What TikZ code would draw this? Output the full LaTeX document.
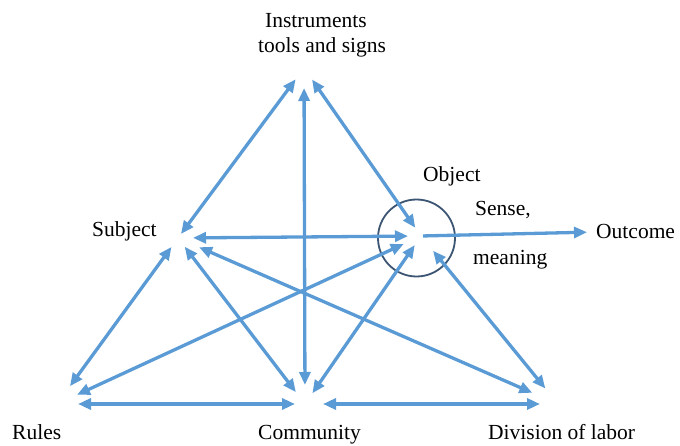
\documentclass[tikz,border=0pt]{standalone}
\usepackage{fontspec}
\setmainfont{Liberation Serif}
\usetikzlibrary{arrows.meta}
\definecolor{arrblue}{RGB}{91,155,213}
\definecolor{circblue}{RGB}{60,85,115}
\begin{document}
\begin{tikzpicture}[x=1pt,y=-1pt,
  lbl/.style={inner sep=0pt, anchor=base west, font=\fontsize{21.5}{25}\selectfont},
  dbl/.style={draw=arrblue, line width=3.3pt, {Triangle[length=13pt,width=11pt]}-{Triangle[length=13pt,width=11pt]}},
  one/.style={draw=arrblue, line width=3.3pt, -{Triangle[length=13pt,width=11pt]}}]
\useasboundingbox (0,0) rectangle (680,446);
% vertices
\coordinate (I) at (304,68);
\coordinate (S) at (178,238);
\coordinate (O) at (421,236);
\coordinate (R) at (57,404);
\coordinate (C) at (305,404);
\coordinate (D) at (558,404);
% labels
\node[lbl] (lI) at (265,28) {Instruments};
\node[lbl] (lT) at (258,53) {tools and signs};
\node[lbl] (lS) at (92,237) {Subject};
\node[lbl] (lO) at (423,182) {Object};
\node[lbl] (lSe) at (475,216) {Sense,};
\node[lbl] (lM) at (473,265) {meaning};
\node[lbl] (outc) at (596,239) {Outcome};
\node[lbl] (lR) at (12,439) {Rules};
\node[lbl] (lC) at (258,439) {Community};
\node[lbl] (lD) at (488,439) {Division of labor};
% object circle
\node[circle, draw=circblue, line width=1.8pt, minimum size=77pt, inner sep=0pt] (oc) at (416.5,238) {};
% connectors
\draw[dbl, shorten <=5pt, shorten >=14pt] (S) -- (I);
\draw[dbl, shorten <=19pt, shorten >=20pt] (C) -- (I);
\draw[dbl, shorten <=10pt, shorten >=14pt] (O) -- (I);
\draw[dbl, shorten <=15pt, shorten >=13pt] (S) -- (O);
\draw[one, shorten <=2pt, shorten >=9pt] (O) -- (outc.west);
\draw[dbl, shorten <=22pt, shorten >=11pt] (R) -- (S);
\draw[dbl, shorten <=15pt, shorten >=11pt] (C) -- (S);
\draw[dbl, shorten <=22pt, shorten >=19pt] (R) -- (O);
\draw[dbl, shorten <=13pt, shorten >=11pt] (C) -- (O);
\draw[dbl, shorten <=28pt, shorten >=23pt] (D) -- (S);
\draw[dbl, shorten <=20pt, shorten >=19pt] (D) -- (O);
\draw[dbl, shorten <=21pt, shorten >=10pt] (R) -- (C);
\draw[dbl, shorten <=18pt, shorten >=18pt] (C) -- (D);
\end{tikzpicture}
\end{document}
